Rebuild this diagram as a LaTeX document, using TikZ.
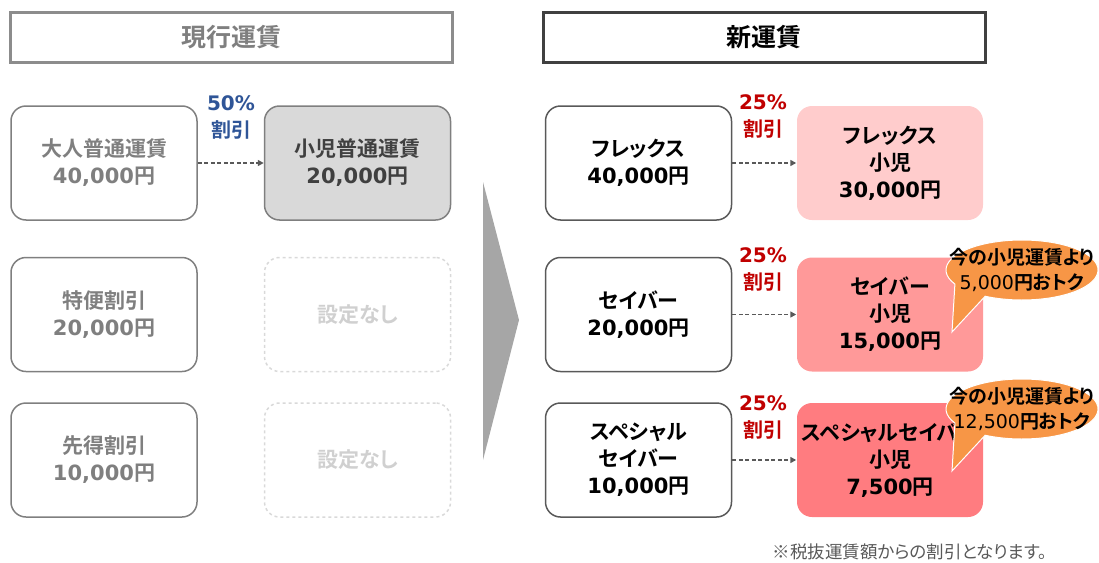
\documentclass[tikz,border=0pt]{standalone}
\usepackage{fontspec}
\setmainfont{Noto Sans CJK JP}[BoldFont={* Bold},RawFeature={+palt}]
\newfontfamily\dv{DejaVu Sans}
\usetikzlibrary{arrows.meta}
\definecolor{oldgray}{HTML}{7F7F7F}
\definecolor{darkgray}{HTML}{404040}
\definecolor{midgray}{HTML}{595959}
\definecolor{palegray}{HTML}{D9D9D9}
\definecolor{nonegray}{HTML}{D0D0D0}
\definecolor{chevgray}{HTML}{A6A6A6}
\definecolor{discblue}{HTML}{2F5597}
\definecolor{discred}{HTML}{C00000}
\definecolor{pinkA}{HTML}{FFCCCC}
\definecolor{pinkB}{HTML}{FF9999}
\definecolor{pinkC}{HTML}{FF7C80}
\definecolor{bubble}{HTML}{F79646}
\tikzset{
  header/.style={minimum width=442pt,minimum height=50pt,line width=3pt,
    font=\fontsize{25}{28}\selectfont\bfseries},
  farebox/.style={rounded corners=15pt,minimum width=186pt,minimum height=114pt,
    inner sep=0pt,align=center,font=\fontsize{21}{27}\selectfont\bfseries},
  oldbox/.style={farebox,draw=oldgray,text=oldgray},
  nonebox/.style={farebox,draw=palegray,dashed,text=nonegray},
  newbox/.style={farebox,draw=midgray,text=black},
  kidbox/.style={farebox,text=black},
  disc/.style={align=center,font=\fontsize{20}{27}\selectfont\bfseries},
  dasharr/.style={midgray,line width=1.8pt,dash pattern=on 4pt off 2.5pt,-{Triangle[length=6pt,width=6pt]}},
  bubtext/.style={align=center,font=\fontsize{19}{25}\selectfont\bfseries}
}
\begin{document}
\begin{tikzpicture}[x=1pt,y=-1pt,line width=1.5pt]
  \useasboundingbox (0,0) rectangle (1099,562);
  % headers
  \node[header,draw=oldgray!90,text=oldgray] (hdold) at (231,37.5) {現行運賃};
  \node[header,draw=darkgray,text=black] (hdnew) at (764,37) {新運賃};
  % current fares
  \node[oldbox] (adult) at (104,163) {大人普通運賃\\{\dv 40,000}円};
  \node[oldbox] (tokubin) at (104,314.5) {特便割引\\{\dv 20,000}円};
  \node[oldbox] (sakitoku) at (104,460) {先得割引\\{\dv 10,000}円};
  \node[farebox,draw=oldgray,fill=palegray,text=darkgray] (child) at (357.5,163) {小児普通運賃\\{\dv 20,000}円};
  \node[nonebox] (none2) at (357.5,314.5) {設定なし};
  \node[nonebox] (none3) at (357.5,460) {設定なし};
  \node[disc,text=discblue] (cut50) at (231,117) {{\dv 50\%}\\割引};
  \draw[dasharr] (adult) -- (child);
  % big arrow
  \fill[chevgray] (483,182) -- (519,320) -- (483,460) -- cycle;
  % new fares
  \node[newbox] (flex) at (638.5,163) {フレックス\\{\dv 40,000}円};
  \node[newbox] (saver) at (638.5,314.5) {セイバー\\{\dv 20,000}円};
  \node[newbox] (special) at (638.5,460) {スペシャル\\セイバー\\{\dv 10,000}円};
  \node[kidbox,fill=pinkA] (flexc) at (890,163) {フレックス\\小児\\{\dv 30,000}円};
  \node[kidbox,fill=pinkB] (saverc) at (890,314.5) {セイバー\\小児\\{\dv 15,000}円};
  \node[kidbox,fill=pinkC] (specialc) at (890,460) {スペシャルセイバー\\小児\\{\dv 7,500}円};
  \foreach \n/\y in {flex/116.5,saver/269,special/417} {
    \node[disc,text=discred] (cut-\n) at (763,\y) {{\dv 25\%}\\割引};
    \draw[dasharr] (\n) -- (\n c);
  }
  % callouts
  \coordinate (tip2) at (952,332);
  \coordinate (tip3) at (952,471);
  \draw[white,line width=1pt,fill=bubble] (1022,270) ++(152:76 and 30)
    arc[start angle=152,end angle=479,x radius=76,y radius=30] -- (tip2) -- cycle;
  \draw[white,line width=1pt,fill=bubble] (1022,409) ++(152:76 and 30)
    arc[start angle=152,end angle=479,x radius=76,y radius=30] -- (tip3) -- cycle;
  \node[bubtext] (bub2) at (1022,270) {今の小児運賃より\\{\dv\mdseries 5,000}円おトク};
  \node[bubtext] (bub3) at (1022,409) {今の小児運賃より\\{\dv\mdseries 12,500}円おトク};
  % note
  \node[text=midgray,font=\fontsize{17.5}{20}\selectfont] (note) at (910,552) {※税抜運賃額からの割引となります。};
\end{tikzpicture}
\end{document}
